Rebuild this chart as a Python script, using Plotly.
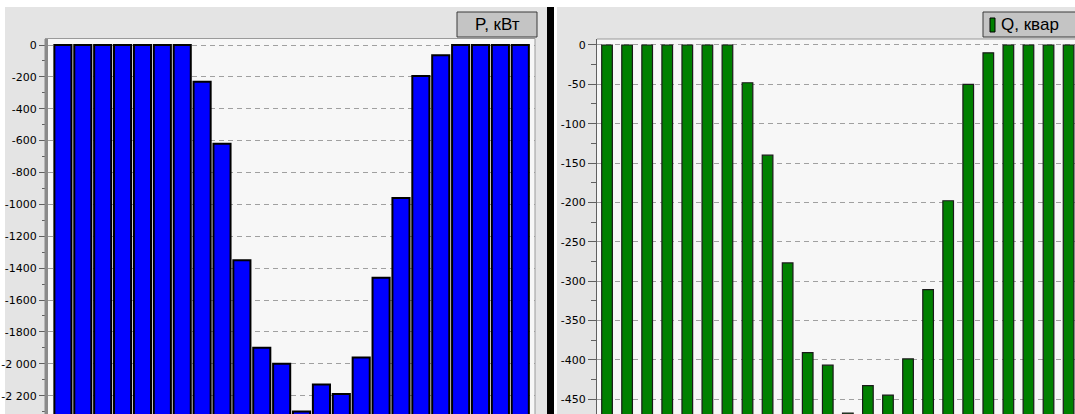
import plotly.graph_objects as go

# ---------------- data ----------------
HOURS = list(range(1, 25))
P_KW = [0, 0, 0, 0, 0, 0, 0, -230, -620, -1350, -1900, -2000, -2300, -2130,
        -2190, -1960, -1460, -960, -195, -65, 0, 0, 0, 0]
Q_KVAR = [0, 0, 0, 0, 0, 0, 0, -48, -140, -277, -391, -407, -468, -433,
          -445, -399, -311, -198, -50, -10, 0, 0, 0, 0]
P_TICKS = [0, -200, -400, -600, -800, -1000, -1200, -1400, -1600, -1800, -2000, -2200]
P_TICKTEXT = ["0", "-200", "-400", "-600", "-800", "-1000", "-1200", "-1400",
              "-1600", "-1800", "-2 000", "-2 200"]
Q_TICKS = [0, -50, -100, -150, -200, -250, -300, -350, -400, -450]
Q_TICKTEXT = ["0", "-50", "-100", "-150", "-200", "-250", "-300", "-350", "-400", "-450"]
P_FLOOR = -2500   # bars rise from below the visible axis bottom
Q_FLOOR = -500
P_NAME = "P, кВт"
Q_NAME = "Q, квар"

# ---------------- layout helpers ----------------
W, H = 1075, 414


def fx(x):
    return x / W


def fy(y):
    return 1 - y / H


PANEL = "#e4e4e4"
PLOTBG = "#f7f7f7"
GRID = "#a0a0a0"
FONT = "DejaVu Sans"

fig = go.Figure()

fig.add_trace(go.Bar(
    x=HOURS, y=[v - P_FLOOR for v in P_KW], base=P_FLOOR,
    marker=dict(color="#0000ff", line=dict(color="#000000", width=2)),
    width=0.86, xaxis="x", yaxis="y", showlegend=False, hoverinfo="skip"))

fig.add_trace(go.Bar(
    x=HOURS, y=[v - Q_FLOOR for v in Q_KVAR], base=Q_FLOOR,
    marker=dict(color="#008000", line=dict(color="#1a1a1a", width=1.2)),
    width=0.53, xaxis="x2", yaxis="y2", showlegend=False, hoverinfo="skip"))

common_y = dict(
    showgrid=True, gridcolor=GRID, griddash="5px,4px", gridwidth=1,
    zeroline=False, showline=True, linecolor="#606060", linewidth=1,
    ticks="outside", ticklen=8, tickcolor="#606060", tickwidth=1,
    tickfont=dict(family=FONT, size=11, color="#000000"),
)

fig.update_layout(
    width=W, height=H,
    margin=dict(l=0, r=0, t=0, b=0),
    paper_bgcolor=PANEL,
    plot_bgcolor=PLOTBG,
    bargap=0,
    xaxis=dict(domain=[fx(48), fx(535)], range=[0.25, 24.74], visible=False,
               anchor="y"),
    yaxis=dict(domain=[0, fy(38.5)], range=[-2315, 40.8], anchor="x",
               tickvals=P_TICKS, ticktext=P_TICKTEXT,
               minor=dict(dtick=100, tick0=0, ticklen=5, ticks="outside",
                          tickcolor="#606060", showgrid=False),
               **common_y),
    xaxis2=dict(domain=[fx(597), 1], range=[0.5, 24.32], visible=False,
                anchor="y2"),
    yaxis2=dict(domain=[0, fy(39)], range=[-469, 7.6], anchor="x2",
                tickvals=Q_TICKS, ticktext=Q_TICKTEXT,
                minor=dict(dtick=25, tick0=0, ticklen=5, ticks="outside",
                           tickcolor="#606060", showgrid=False),
                **common_y),
)

shapes = [
    # white borders
    dict(type="rect", xref="paper", yref="paper", x0=0, x1=1,
         y0=fy(7), y1=1, fillcolor="#ffffff", line=dict(width=0), layer="above"),
    dict(type="rect", xref="paper", yref="paper", x0=0, x1=fx(5),
         y0=0, y1=1, fillcolor="#ffffff", line=dict(width=0), layer="below"),
    dict(type="rect", xref="paper", yref="paper", x0=fx(554), x1=fx(557),
         y0=0, y1=1, fillcolor="#ffffff", line=dict(width=0), layer="above"),
    # black divider
    dict(type="rect", xref="paper", yref="paper", x0=fx(547), x1=fx(554),
         y0=0, y1=fy(7), fillcolor="#000000", line=dict(width=0), layer="above"),
    # left plot 3D edge
    dict(type="rect", xref="paper", yref="paper", x0=fx(44.5), x1=fx(48),
         y0=0, y1=fy(39), fillcolor="#8a8a8a", line=dict(width=0), layer="above"),
    # plot top borders
    dict(type="line", xref="paper", yref="paper", x0=fx(45), x1=fx(535),
         y0=fy(38.5), y1=fy(38.5), line=dict(color="#9a9a9a", width=1)),
    dict(type="line", xref="paper", yref="paper", x0=fx(535), x1=fx(535),
         y0=0, y1=fy(38.5), line=dict(color="#9a9a9a", width=1)),
    dict(type="line", xref="paper", yref="paper", x0=fx(597), x1=1,
         y0=fy(39), y1=fy(39), line=dict(color="#9a9a9a", width=1)),
    # legend boxes
    dict(type="rect", xref="paper", yref="paper", x0=fx(457), x1=fx(537),
         y0=fy(37), y1=fy(12), fillcolor="#c4c4c4",
         line=dict(color="#3a3a3a", width=1)),
    dict(type="rect", xref="paper", yref="paper", x0=fx(983), x1=fx(1080),
         y0=fy(37), y1=fy(12), fillcolor="#c4c4c4",
         line=dict(color="#3a3a3a", width=1)),
    # legend marker for Q
    dict(type="rect", xref="paper", yref="paper", x0=fx(990), x1=fx(995),
         y0=fy(32), y1=fy(18), fillcolor="#008000",
         line=dict(color="#000000", width=1)),
]
fig.update_layout(shapes=shapes)

fig.add_annotation(x=fx(497), y=fy(24.5), xref="paper", yref="paper",
                   text=P_NAME, showarrow=False, xanchor="center", yanchor="middle",
                   font=dict(family="Liberation Sans", size=17, color="#000000"))
fig.add_annotation(x=fx(999), y=fy(24.5), xref="paper", yref="paper",
                   text=Q_NAME, showarrow=False, xanchor="left", yanchor="middle",
                   font=dict(family="Liberation Sans", size=17, color="#000000"))

fig.write_html("out.html",
               config={"displayModeBar": False, "staticPlot": True},
               post_script="document.body.style.margin='0px';"
                           "document.body.style.padding='0px';"
                           "document.body.style.overflow='hidden';")
